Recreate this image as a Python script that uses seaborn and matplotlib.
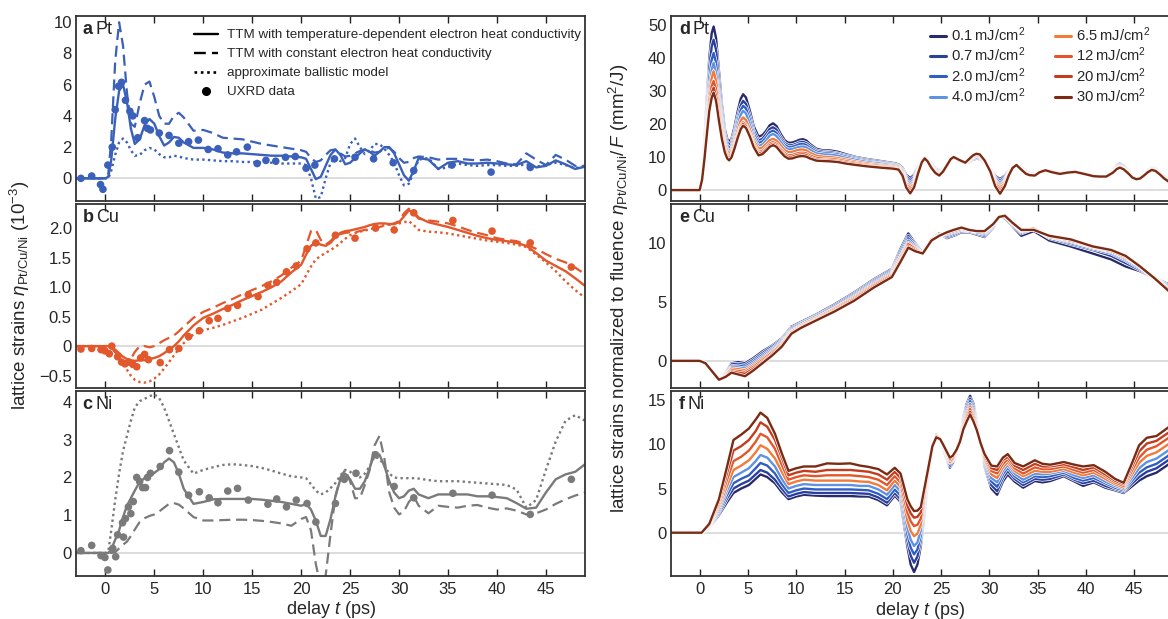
import matplotlib
matplotlib.use("Agg")
import matplotlib.pyplot as plt
import matplotlib.patheffects as pe
from matplotlib.lines import Line2D
from matplotlib.ticker import FuncFormatter
import pandas as pd
import seaborn as sns

# ---------------- left column: lattice strain (10^-3) ----------------
t_model = [-3, 0, 0.3, 0.6, 1.0, 1.4, 1.8, 2.2, 2.6, 3.0, 3.5, 4.0, 4.5, 5.0, 5.5, 6.0, 6.5, 7.0, 7.5, 8.0,
           9, 10, 11, 12, 13, 14, 15, 16, 17, 18, 19, 20,
           20.5, 21, 21.5, 22, 22.5, 23, 23.5, 24, 24.5, 25, 25.5, 26, 26.5, 27, 27.5, 28, 28.5, 29, 29.5, 30, 30.5, 31, 31.5, 32,
           33, 34, 35, 36, 37, 38, 39, 40, 41, 42, 43, 44, 45, 46, 47, 48, 49]

pt_tdep = [0, 0, 0.1, 1.2, 3.8, 5.6, 6.0, 4.9, 3.2, 2.2, 2.5, 3.4, 3.8, 3.5, 2.7, 2.1, 2.3, 2.65, 2.6, 2.3,
           1.95, 1.95, 1.85, 1.65, 1.6, 1.6, 1.55, 1.5, 1.45, 1.45, 1.4, 1.35,
           1.25, 0.6, -0.05, 0.1, 0.8, 1.5, 1.85, 1.5, 0.9, 1.0, 1.3, 1.6, 1.85, 1.7, 1.45, 1.7, 2.0, 2.0, 1.6, 0.9, 0.2, -0.15, 0.5, 1.3,
           1.2, 0.6, 1.0, 1.1, 0.95, 0.95, 1.0, 0.95, 0.9, 0.85, 1.1, 0.7, 0.8, 1.15, 0.9, 0.6, 0.75]
pt_const = [0, 0, 0.3, 2.5, 7.5, 10.0, 8.5, 5.5, 3.5, 3.3, 4.8, 6.0, 6.2, 5.2, 4.0, 3.5, 3.5, 4.0, 4.2, 3.9,
            3.05, 3.1, 2.9, 2.6, 2.55, 2.5, 2.35, 2.2, 2.1, 2.0, 1.9, 1.8,
            1.7, 1.3, 1.05, 1.15, 1.5, 1.8, 1.85, 1.6, 1.4, 1.45, 1.6, 1.75, 1.85, 1.8, 1.65, 1.7, 1.9, 1.95, 1.7, 1.3, 1.0, 1.05, 1.3, 1.4,
            1.35, 1.2, 1.25, 1.25, 1.2, 1.15, 1.2, 1.1, 0.95, 0.9, 1.6, 1.2, 0.85, 1.5, 1.2, 0.8, 0.8]
pt_ballistic = [0, 0, 0.0, 0.5, 1.5, 2.3, 2.55, 2.3, 1.8, 1.45, 1.5, 1.8, 1.95, 1.85, 1.55, 1.35, 1.35, 1.45, 1.4, 1.3,
                1.2, 1.2, 1.15, 1.1, 1.1, 1.05, 1.05, 1.0, 1.0, 0.95, 0.95, 0.95,
                0.85, 0.0, -1.3, -1.2, 0.0, 1.0, 1.35, 1.1, 1.3, 2.2, 2.55, 2.0, 1.55, 1.8, 2.2, 2.2, 1.9, 1.5, 1.0, 0.2, -0.45, -0.35, 0.4, 1.2,
                1.3, 0.6, 0.7, 0.95, 0.85, 0.8, 0.85, 0.85, 0.8, 0.8, 0.9, 0.75, 0.85, 1.0, 0.85, 0.65, 0.8]

cu_tdep = [0, 0, 0, -0.02, -0.06, -0.12, -0.18, -0.22, -0.24, -0.25, -0.24, -0.24, -0.22, -0.2, -0.17, -0.12, -0.06, 0.0, 0.08, 0.18,
           0.35, 0.48, 0.55, 0.63, 0.7, 0.78, 0.85, 0.92, 1.0, 1.1, 1.25, 1.38,
           1.55, 1.7, 1.76, 1.72, 1.7, 1.75, 1.85, 1.92, 1.95, 1.96, 1.98, 2.0, 2.02, 2.05, 2.07, 2.08, 2.08, 2.07, 2.07, 2.1, 2.2, 2.3, 2.27, 2.18,
           2.1, 2.06, 2.02, 1.97, 1.92, 1.87, 1.83, 1.8, 1.78, 1.75, 1.7, 1.58, 1.45, 1.36, 1.27, 1.15, 1.02]
cu_const = [0, 0, 0, -0.03, -0.1, -0.2, -0.27, -0.3, -0.22, -0.1, 0.0, 0.0, -0.02, 0.0, 0.05, 0.1, 0.14, 0.18, 0.25, 0.33,
            0.48, 0.58, 0.65, 0.73, 0.8, 0.88, 0.95, 1.02, 1.1, 1.2, 1.33, 1.45,
            1.7, 1.95, 1.97, 1.8, 1.72, 1.78, 1.87, 1.9, 1.92, 1.93, 1.93, 1.95, 1.97, 1.99, 2.0, 2.02, 2.04, 2.06, 2.08, 2.12, 2.25, 2.33, 2.25, 2.16,
            2.13, 2.11, 2.08, 2.03, 1.97, 1.92, 1.88, 1.83, 1.8, 1.78, 1.72, 1.65, 1.56, 1.48, 1.42, 1.33, 1.22]
cu_ballistic = [0, 0, 0, -0.03, -0.1, -0.2, -0.3, -0.4, -0.5, -0.57, -0.61, -0.62, -0.6, -0.55, -0.48, -0.38, -0.27, -0.16, -0.05, 0.05,
                0.2, 0.27, 0.31, 0.36, 0.42, 0.48, 0.55, 0.62, 0.72, 0.82, 0.93, 1.05,
                1.2, 1.35, 1.47, 1.53, 1.58, 1.63, 1.68, 1.75, 1.82, 1.88, 1.92, 1.94, 1.96, 1.98, 2.0, 2.03, 2.05, 2.06, 2.07, 2.08, 2.1, 2.12, 2.05, 1.97,
                1.94, 1.93, 1.91, 1.88, 1.85, 1.82, 1.79, 1.77, 1.75, 1.72, 1.68, 1.55, 1.42, 1.27, 1.1, 0.95, 0.82]

ni_tdep = [0, 0, 0, 0.1, 0.35, 0.6, 0.95, 1.25, 1.45, 1.65, 1.88, 1.98, 2.05, 2.12, 2.22, 2.4, 2.5, 2.4, 2.1, 1.7,
           1.3, 1.35, 1.42, 1.43, 1.43, 1.43, 1.43, 1.41, 1.38, 1.35, 1.3, 1.25,
           1.3, 1.15, 0.85, 0.45, 0.45, 0.9, 1.5, 1.95, 2.1, 1.95, 1.7, 1.7, 1.9, 2.25, 2.65, 2.6, 2.3, 1.9, 1.6, 1.45, 1.5, 1.65, 1.7, 1.55,
           1.45, 1.55, 1.55, 1.55, 1.55, 1.5, 1.5, 1.48, 1.45, 1.32, 1.17, 1.2, 1.6, 1.95, 2.08, 2.15, 2.35]
ni_const = [0, 0, 0, 0, 0.02, 0.12, 0.22, 0.3, 0.45, 0.62, 0.82, 0.92, 0.98, 1.02, 1.1, 1.2, 1.3, 1.32, 1.28, 1.18,
            0.95, 0.86, 0.86, 0.87, 0.88, 0.88, 0.87, 0.85, 0.82, 0.78, 0.72, 0.9,
            0.95, 0.6, -0.3, -0.9, -0.6, 0.5, 1.5, 2.0, 2.2, 1.9, 1.45, 1.45, 1.8, 2.2, 2.85, 3.1, 2.5, 1.6, 1.2, 1.02, 1.1, 1.35, 1.5, 1.25,
            1.05, 1.25, 1.22, 1.2, 1.25, 1.27, 1.2, 1.15, 1.18, 1.12, 1.02, 1.05, 1.15, 1.3, 1.42, 1.52, 1.6]
ni_ballistic = [0, 0, 0.05, 0.6, 1.4, 2.1, 2.7, 3.1, 3.5, 3.85, 4.02, 4.08, 4.15, 4.2, 4.1, 3.85, 3.5, 3.15, 2.8, 2.45,
                2.1, 2.2, 2.27, 2.33, 2.35, 2.33, 2.3, 2.25, 2.18, 2.1, 2.03, 2.0,
                1.98, 1.82, 1.65, 1.55, 1.6, 1.72, 1.85, 2.05, 2.2, 2.15, 2.05, 2.0, 2.1, 2.3, 2.55, 2.5, 2.3, 2.1, 2.0, 1.98, 1.98, 1.98, 1.98, 1.97,
                1.93, 1.9, 1.9, 1.9, 1.88, 1.86, 1.84, 1.82, 1.8, 1.68, 1.2, 1.4, 2.2, 2.95, 3.5, 3.65, 3.5]

# UXRD data points
pt_data_t = [-2.5, -1.4, -0.5, -0.25, 0.25, 0.7, 1.0, 1.35, 1.65, 2.05, 2.5, 2.8, 3.3, 4.0, 4.3, 4.6, 5.5, 6.5, 7.5, 8.5,
             9.5, 10.5, 11.5, 12.5, 13.4, 14.5, 15.5, 16.4, 17.4, 18.4, 19.4, 20.5, 21.4, 23.4, 25.5, 27.4, 29.4, 31.5, 35.4, 39.4, 43.4]
pt_data = [0.0, 0.15, -0.4, -0.7, 0.85, 2.0, 4.4, 5.9, 6.15, 5.0, 4.3, 4.0, 2.6, 3.7, 3.2, 3.1, 2.9, 2.75, 2.25, 2.35,
           2.45, 1.85, 1.9, 1.5, 1.7, 2.0, 0.95, 1.15, 1.1, 1.35, 1.4, 0.65, 0.85, 1.25, 1.35, 1.25, 1.0, 0.5, 0.85, 0.4, 0.7]
cu_data_t = [-2.5, -1.4, -0.45, -0.05, 0.4, 0.65, 1.25, 1.65, 2.0, 2.4, 2.8, 3.2, 3.6, 4.0, 4.4, 5.6, 6.55, 7.5, 8.5, 9.6,
             10.6, 11.5, 12.5, 13.5, 14.6, 15.6, 16.6, 17.5, 18.5, 19.5, 20.6, 21.5, 23.5, 25.5, 27.6, 29.5, 31.5, 35.5, 39.5, 43.4, 47.6]
cu_data = [-0.05, -0.04, -0.06, -0.08, -0.13, 0.0, -0.18, -0.27, -0.3, -0.27, -0.31, -0.35, -0.2, -0.14, -0.23, -0.28, -0.06, -0.04, 0.16, 0.26,
           0.43, 0.47, 0.64, 0.69, 0.87, 0.84, 1.03, 1.08, 1.26, 1.36, 1.65, 1.75, 1.88, 1.83, 2.0, 1.97, 2.26, 2.13, 1.95, 1.75, 1.34]
ni_data_t = [-2.5, -1.4, -0.45, -0.05, 0.25, 0.75, 1.05, 1.25, 1.75, 1.85, 2.05, 2.35, 2.6, 2.85, 3.2, 3.5, 3.8, 4.1, 4.3, 4.6,
             5.6, 6.55, 7.5, 8.5, 9.6, 10.6, 11.5, 12.5, 13.5, 14.6, 16.6, 17.5, 18.5, 19.5, 20.6, 21.5, 23.5, 24.4, 25.6, 27.6,
             29.5, 31.5, 35.5, 39.5, 43.4, 47.6]
ni_data = [0.06, 0.2, -0.07, -0.12, -0.45, 0.12, -0.1, 0.48, 0.8, 0.42, 0.91, 1.22, 1.04, 1.36, 2.0, 1.89, 1.73, 1.73, 2.0, 2.11,
           2.29, 2.71, 2.14, 1.53, 1.62, 1.46, 1.33, 1.64, 1.71, 1.4, 1.29, 1.43, 1.22, 1.4, 1.31, 0.82, 1.31, 1.95, 2.11, 2.6,
           1.76, 1.46, 1.58, 1.53, 1.02, 1.95]

# ---------------- right column: strain / fluence (mm^2/J) ----------------
fluences = ["0.1", "0.7", "2.0", "4.0", "6.5", "12", "20", "30"]
fluence_colors = ["#272b6e", "#2b3f9e", "#2f5dc6", "#5f92e2", "#f27a3a", "#e4562a", "#c43c1e", "#7b2a13"]

# each row: one delay, values for the 8 fluences (low -> high)
t_pt = [-3, 0.0, 0.25, 0.5, 0.75, 1.0, 1.25, 1.45, 1.7, 2.0, 2.3, 2.6, 2.85, 3.05, 3.3, 3.6, 3.95, 4.25, 4.5, 4.8,
        5.2, 5.6, 6.1, 6.5, 6.9, 7.25, 7.6, 7.95, 8.4, 8.8, 9.2, 9.6, 10.0, 10.35, 10.7, 11.05, 11.4, 12.1, 12.8, 13.5,
        14.3, 15.2, 16.2, 17.3, 18.7, 20.0, 20.6, 21.0, 21.4, 21.8, 22.2, 22.6, 23.0, 23.3, 23.6, 24.0, 24.4, 24.8, 25.2, 25.6,
        26.0, 26.3, 26.9, 27.5, 27.9, 28.3, 28.65, 29.0, 29.5, 30.1, 30.6, 31.1, 31.6, 32.0, 32.4, 32.8, 33.3, 33.8, 34.2, 34.7,
        35.2, 35.8, 36.5, 37.3, 38.1, 38.9, 39.8, 40.8, 41.4, 42.1, 42.8, 43.2, 43.5, 43.9, 44.4, 44.8, 45.2, 45.6, 46.0, 46.4,
        46.8, 47.2, 47.7, 48.1, 48.6, 49.5]
pt_norm = [
    [0, 0, 0, 0, 0, 0, 0, 0],
    [0, 0, 0, 0, 0, 0, 0, 0],
    [5, 4.6, 4.3, 4, 3.8, 3.5, 3.3, 3.1],
    [15, 14, 13, 12, 11.5, 10.5, 10, 9.5],
    [28, 26, 24, 22, 21, 19, 18, 17],
    [40, 37, 34, 31, 29, 27, 25, 24],
    [47.5, 43.5, 39.5, 36.5, 34, 31.5, 29.5, 28],
    [49.5, 45.5, 41.5, 38.5, 36, 33, 31, 29.5],
    [46, 42.5, 38.5, 35.5, 33, 30.5, 28.5, 27],
    [36, 33, 30, 28, 26, 24, 22.5, 21],
    [26, 24, 22, 20.5, 19, 17.5, 16.5, 15.5],
    [18.5, 17, 16, 15, 14, 12.8, 12.2, 11.5],
    [15.5, 14.5, 13.5, 12.5, 11.8, 10.8, 10.2, 9.6],
    [14.6, 13.6, 12.6, 11.7, 11.0, 10.1, 9.5, 9.0],
    [15.5, 14.5, 13.5, 12.6, 11.9, 11.0, 10.4, 9.9],
    [19, 17.5, 16.5, 15.5, 14.5, 13.5, 13, 12.5],
    [24, 22.2, 21, 19.7, 18.3, 17, 16.4, 15.9],
    [27.6, 25.6, 24.2, 22.8, 21, 19.5, 18.9, 18.4],
    [29, 27, 25.5, 24, 22, 20.5, 20, 19.5],
    [28, 26.1, 24.7, 23.2, 21.2, 19.8, 19.3, 18.8],
    [24, 22.4, 21.2, 19.9, 18.4, 17.2, 16.7, 16.2],
    [19.3, 18, 17, 16, 15, 14, 13.5, 13],
    [16.2, 15, 14.2, 13.3, 12.5, 11.5, 11, 10.5],
    [16.6, 15.5, 14.7, 13.8, 12.9, 11.9, 11.4, 10.9],
    [18, 17, 16, 15, 14, 13, 12.5, 12],
    [19.6, 18.5, 17.5, 16.5, 15.1, 14.1, 13.6, 13.1],
    [20.2, 19, 18, 17, 15.5, 14.5, 14, 13.6],
    [19.4, 18.3, 17.3, 16.4, 15, 14, 13.5, 13.1],
    [17, 16, 15.2, 14.5, 13.5, 12.5, 12, 11.5],
    [15.1, 14.3, 13.7, 13.0, 12.1, 11.2, 10.7, 10.2],
    [14.3, 13.5, 13, 12.3, 11.5, 10.5, 10, 9.5],
    [14.4, 13.6, 13.1, 12.4, 11.6, 10.6, 10.1, 9.6],
    [14.8, 14, 13.5, 12.8, 12, 11, 10.5, 10],
    [15.25, 14.45, 13.9, 13.1, 12.25, 11.25, 10.75, 10.25],
    [15.4, 14.6, 14, 13.2, 12.3, 11.3, 10.8, 10.3],
    [15.0, 14.2, 13.6, 12.9, 12.0, 11.1, 10.6, 10.1],
    [14.0, 13.4, 12.8, 12.2, 11.3, 10.5, 10, 9.6],
    [12.5, 12, 11.6, 11.1, 10.4, 9.7, 9.2, 8.9],
    [12.0, 11.6, 11.2, 10.8, 10.1, 9.5, 9.1, 8.8],
    [12.0, 11.5, 11.1, 10.7, 10.0, 9.4, 9.0, 8.7],
    [11.6, 11.1, 10.8, 10.4, 9.7, 9.2, 8.8, 8.5],
    [10.8, 10.4, 10.1, 9.7, 9.2, 8.7, 8.3, 8.0],
    [10.0, 9.7, 9.4, 9.1, 8.6, 8.2, 7.9, 7.6],
    [9.4, 9.1, 8.8, 8.5, 8.1, 7.7, 7.4, 7.2],
    [8.8, 8.5, 8.2, 8.0, 7.6, 7.3, 7.0, 6.8],
    [8.2, 7.9, 7.7, 7.5, 7.2, 6.9, 6.7, 6.5],
    [7.8, 7.5, 7.3, 7.1, 6.8, 6.5, 6.3, 6.2],
    [6.8, 6.4, 6.1, 5.8, 5.4, 5.0, 4.7, 4.4],
    [4.6, 4.0, 3.4, 2.9, 2.3, 1.8, 1.2, 0.7],
    [3.6, 2.9, 2.2, 1.6, 1.0, 0.4, -0.3, -1.0],
    [4.6, 4.0, 3.4, 2.9, 2.3, 1.8, 1.3, 0.8],
    [7.0, 6.7, 6.4, 6.1, 5.8, 5.5, 5.2, 4.9],
    [9.1, 9.0, 8.9, 8.8, 8.7, 8.6, 8.5, 8.4],
    [9.8, 9.8, 9.8, 9.8, 9.8, 9.8, 9.7, 9.6],
    [9.4, 9.3, 9.2, 9.1, 9.0, 8.9, 8.8, 8.7],
    [8.1, 7.9, 7.7, 7.5, 7.3, 7.1, 6.9, 6.7],
    [6.6, 6.4, 6.2, 6.0, 5.8, 5.6, 5.4, 5.2],
    [5.8, 5.6, 5.4, 5.2, 5.0, 4.8, 4.6, 4.4],
    [6.4, 6.3, 6.2, 6.1, 5.9, 5.8, 5.7, 5.6],
    [7.8, 7.8, 7.7, 7.7, 7.6, 7.6, 7.5, 7.5],
    [9.1, 9.1, 9.2, 9.2, 9.3, 9.3, 9.4, 9.4],
    [9.6, 9.7, 9.7, 9.8, 9.8, 9.9, 9.9, 10.0],
    [8.7, 8.8, 8.8, 8.9, 8.9, 9.0, 9.0, 9.1],
    [7.9, 8.0, 8.0, 8.1, 8.1, 8.2, 8.2, 8.3],
    [8.4, 8.6, 8.7, 8.9, 9.0, 9.2, 9.3, 9.4],
    [9.2, 9.4, 9.6, 9.8, 10.0, 10.2, 10.4, 10.5],
    [9.5, 9.7, 9.9, 10.2, 10.4, 10.6, 10.8, 11.0],
    [9.4, 9.6, 9.8, 10.0, 10.2, 10.4, 10.6, 10.8],
    [8.3, 8.4, 8.5, 8.6, 8.7, 8.8, 8.9, 9.0],
    [6.3, 6.2, 6.1, 6.0, 5.9, 5.8, 5.7, 5.6],
    [4.3, 3.9, 3.5, 3.1, 2.7, 2.2, 1.7, 1.2],
    [3.3, 2.7, 2.1, 1.5, 0.9, 0.3, -0.4, -1.1],
    [4.4, 4.0, 3.5, 3.1, 2.7, 2.2, 1.7, 1.2],
    [5.8, 5.6, 5.4, 5.2, 5.0, 4.8, 4.6, 4.4],
    [7.1, 7.0, 7.0, 6.9, 6.9, 6.8, 6.8, 6.7],
    [7.6, 7.6, 7.6, 7.6, 7.6, 7.6, 7.6, 7.6],
    [6.9, 6.8, 6.7, 6.6, 6.5, 6.4, 6.3, 6.2],
    [5.8, 5.6, 5.5, 5.4, 5.3, 5.1, 5.0, 4.9],
    [5.0, 4.9, 4.8, 4.7, 4.7, 4.6, 4.5, 4.5],
    [4.9, 4.8, 4.7, 4.6, 4.6, 4.5, 4.4, 4.4],
    [5.6, 5.6, 5.5, 5.5, 5.5, 5.4, 5.4, 5.4],
    [6.1, 6.1, 6.1, 6.1, 6.1, 6.0, 6.0, 6.0],
    [5.8, 5.7, 5.7, 5.6, 5.6, 5.5, 5.5, 5.4],
    [5.4, 5.3, 5.2, 5.2, 5.1, 5.0, 5.0, 4.9],
    [5.6, 5.6, 5.5, 5.5, 5.4, 5.4, 5.3, 5.3],
    [5.8, 5.8, 5.7, 5.7, 5.6, 5.6, 5.5, 5.5],
    [5.2, 5.2, 5.1, 5.1, 5.0, 5.0, 4.9, 4.9],
    [4.5, 4.5, 4.4, 4.4, 4.3, 4.3, 4.2, 4.2],
    [4.3, 4.3, 4.2, 4.2, 4.2, 4.1, 4.1, 4.1],
    [4.3, 4.2, 4.2, 4.2, 4.2, 4.1, 4.1, 4.1],
    [6.0, 5.9, 5.8, 5.7, 5.6, 5.5, 5.4, 5.3],
    [7.5, 7.3, 7.1, 6.9, 6.8, 6.6, 6.5, 6.4],
    [8.0, 7.8, 7.6, 7.4, 7.2, 7.0, 6.9, 6.8],
    [7.4, 7.2, 7.0, 6.9, 6.7, 6.5, 6.4, 6.3],
    [5.8, 5.6, 5.5, 5.4, 5.3, 5.2, 5.1, 5.0],
    [4.2, 4.1, 4.1, 4.0, 4.0, 3.9, 3.9, 3.8],
    [3.3, 3.3, 3.3, 3.3, 3.3, 3.3, 3.3, 3.3],
    [3.7, 3.7, 3.6, 3.6, 3.6, 3.6, 3.5, 3.5],
    [4.8, 4.7, 4.6, 4.6, 4.5, 4.5, 4.4, 4.4],
    [6.1, 6.0, 5.9, 5.8, 5.7, 5.6, 5.5, 5.4],
    [6.8, 6.7, 6.6, 6.5, 6.4, 6.3, 6.2, 6.1],
    [6.5, 6.4, 6.3, 6.2, 6.1, 6.0, 5.9, 5.8],
    [5.3, 5.2, 5.1, 5.0, 4.9, 4.8, 4.7, 4.6],
    [4.2, 4.1, 4.0, 3.9, 3.8, 3.7, 3.6, 3.5],
    [3.2, 3.1, 3.0, 2.9, 2.8, 2.7, 2.6, 2.5],
    [2.0, 1.9, 1.8, 1.7, 1.6, 1.5, 1.4, 1.3],
]

t_cu = [-3, 0.0, 0.6, 1.3, 2.0, 2.7, 3.3, 4.0, 4.7, 5.5, 6.5, 7.5, 8.5, 9.5, 10.5, 12.0, 14.0, 16.0, 18.0, 19.9,
        20.8, 21.6, 22.3, 23.1, 24.0, 24.8, 25.6, 26.3, 27.1, 27.9, 28.7, 29.5, 30.4, 31.0, 31.6, 32.4, 33.3, 34.6,
        36.2, 38.4, 40.7, 42.6, 44.1, 45.6, 47.1, 48.6, 49.5]
cu_norm = [
    [0, 0, 0, 0, 0, 0, 0, 0],
    [0, 0, 0, 0, 0, 0, 0, 0],
    [-0.2, -0.2, -0.2, -0.2, -0.2, -0.2, -0.2, -0.2],
    [-0.9, -0.9, -0.9, -0.9, -0.9, -0.9, -0.9, -0.9],
    [-1.6, -1.6, -1.6, -1.6, -1.6, -1.6, -1.6, -1.6],
    [-1.0, -1.05, -1.1, -1.15, -1.2, -1.25, -1.3, -1.35],
    [-0.2, -0.3, -0.45, -0.55, -0.65, -0.8, -0.9, -1.0],
    [-0.1, -0.25, -0.4, -0.55, -0.7, -0.85, -1.0, -1.15],
    [-0.2, -0.35, -0.5, -0.65, -0.8, -0.95, -1.1, -1.3],
    [0.2, 0.05, -0.1, -0.25, -0.4, -0.55, -0.7, -0.85],
    [0.8, 0.65, 0.5, 0.35, 0.2, 0.05, -0.1, -0.2],
    [1.3, 1.2, 1.05, 0.95, 0.8, 0.7, 0.55, 0.45],
    [1.9, 1.8, 1.7, 1.6, 1.5, 1.4, 1.3, 1.2],
    [2.9, 2.8, 2.7, 2.6, 2.5, 2.45, 2.35, 2.3],
    [3.3, 3.2, 3.15, 3.05, 3.0, 2.9, 2.85, 2.8],
    [3.9, 3.8, 3.75, 3.65, 3.6, 3.5, 3.45, 3.4],
    [4.8, 4.7, 4.6, 4.5, 4.45, 4.35, 4.25, 4.2],
    [5.8, 5.7, 5.6, 5.5, 5.4, 5.3, 5.2, 5.1],
    [6.9, 6.8, 6.7, 6.6, 6.5, 6.4, 6.3, 6.2],
    [7.8, 7.7, 7.6, 7.5, 7.4, 7.3, 7.2, 7.1],
    [9.5, 9.3, 9.1, 8.9, 8.8, 8.6, 8.5, 8.4],
    [10.8, 10.6, 10.4, 10.2, 10.0, 9.9, 9.7, 9.6],
    [10.0, 9.9, 9.8, 9.7, 9.6, 9.5, 9.4, 9.3],
    [9.2, 9.2, 9.2, 9.1, 9.1, 9.1, 9.1, 9.1],
    [10.3, 10.3, 10.3, 10.3, 10.3, 10.3, 10.2, 10.2],
    [10.8, 10.8, 10.7, 10.7, 10.7, 10.6, 10.6, 10.6],
    [10.4, 10.5, 10.6, 10.7, 10.8, 10.8, 10.9, 10.9],
    [10.6, 10.7, 10.8, 10.9, 11.0, 11.0, 11.1, 11.1],
    [10.9, 11.0, 11.1, 11.1, 11.2, 11.2, 11.3, 11.3],
    [10.9, 11.0, 11.0, 11.1, 11.1, 11.1, 11.1, 11.1],
    [10.7, 10.8, 10.9, 10.9, 11.0, 11.0, 11.0, 11.0],
    [10.5, 10.6, 10.7, 10.8, 10.9, 11.0, 11.0, 11.0],
    [11.3, 11.4, 11.5, 11.5, 11.6, 11.6, 11.6, 11.6],
    [12.2, 12.2, 12.2, 12.2, 12.2, 12.2, 12.2, 12.2],
    [12.1, 12.2, 12.3, 12.3, 12.3, 12.3, 12.3, 12.3],
    [11.4, 11.5, 11.6, 11.6, 11.7, 11.7, 11.7, 11.7],
    [10.6, 10.8, 10.9, 11.0, 11.0, 11.1, 11.1, 11.1],
    [11.0, 11.2, 11.2, 11.2, 11.2, 11.2, 11.1, 11.1],
    [10.2, 10.4, 10.5, 10.5, 10.5, 10.6, 10.6, 10.6],
    [9.7, 9.9, 10.0, 10.1, 10.2, 10.2, 10.3, 10.3],
    [9.1, 9.4, 9.5, 9.6, 9.6, 9.7, 9.7, 9.7],
    [8.6, 8.9, 9.1, 9.2, 9.3, 9.3, 9.4, 9.4],
    [8.0, 8.3, 8.5, 8.6, 8.7, 8.8, 8.9, 8.9],
    [7.6, 7.7, 7.8, 7.9, 8.0, 8.0, 8.0, 8.0],
    [7.0, 7.0, 7.0, 7.0, 7.0, 7.0, 7.0, 7.0],
    [6.5, 6.4, 6.3, 6.2, 6.1, 6.0, 6.0, 5.9],
    [6.1, 6.0, 5.9, 5.8, 5.7, 5.6, 5.5, 5.4],
]

t_ni = [-3, 0.2, 1.0, 2.0, 2.8, 3.5, 4.3, 5.1, 5.8, 6.3, 7.0, 7.8, 8.5, 9.2, 10.0, 10.8, 12.0, 13.2, 14.4, 15.6,
        16.6, 17.5, 18.5, 19.4, 20.2, 20.8, 21.5, 21.85, 22.2, 22.55, 22.9, 23.25, 23.6, 24.1, 24.5, 24.9, 25.2, 25.9,
        26.2, 26.6, 26.95, 27.3, 27.65, 28.0, 28.35, 28.7, 29.1, 29.5, 30.2, 30.8, 31.4, 31.9, 32.6, 33.5, 34.7, 35.5,
        36.3, 37.7, 38.8, 39.7, 40.8, 42.0, 43.0, 43.9, 44.7, 45.5, 46.3, 47.3, 48.5, 49.5]
ni_norm = [
    [0, 0, 0, 0, 0, 0, 0, 0],
    [0, 0, 0, 0, 0, 0, 0, 0],
    [0.6, 0.65, 0.7, 0.75, 0.8, 0.85, 0.9, 1.0],
    [2.0, 2.2, 2.4, 2.6, 2.9, 3.2, 3.5, 3.8],
    [3.4, 3.8, 4.2, 4.7, 5.2, 5.9, 6.6, 7.3],
    [4.5, 5.0, 5.6, 6.3, 7.1, 8.1, 9.3, 10.5],
    [5.0, 5.5, 6.1, 6.8, 7.6, 8.6, 9.8, 11.1],
    [5.4, 5.9, 6.5, 7.3, 8.2, 9.3, 10.5, 11.8],
    [6.1, 6.6, 7.3, 8.1, 9.1, 10.3, 11.5, 12.8],
    [6.6, 7.1, 7.9, 8.8, 9.9, 11.2, 12.5, 13.6],
    [6.3, 6.8, 7.6, 8.5, 9.5, 10.8, 12.0, 13.0],
    [5.6, 6.0, 6.7, 7.5, 8.4, 9.5, 10.5, 11.2],
    [4.6, 5.0, 5.5, 6.1, 6.9, 7.7, 8.5, 9.0],
    [3.8, 4.1, 4.5, 5.0, 5.5, 6.0, 6.5, 7.0],
    [4.1, 4.4, 4.8, 5.3, 5.8, 6.3, 6.8, 7.3],
    [4.3, 4.6, 5.0, 5.5, 6.0, 6.5, 7.0, 7.5],
    [4.2, 4.5, 4.9, 5.4, 5.9, 6.4, 6.9, 7.5],
    [4.15, 4.5, 4.9, 5.4, 5.9, 6.5, 7.1, 7.85],
    [4.15, 4.5, 4.9, 5.4, 5.9, 6.5, 7.1, 7.8],
    [4.15, 4.5, 4.9, 5.4, 5.9, 6.5, 7.1, 7.85],
    [4.1, 4.45, 4.85, 5.3, 5.8, 6.4, 7.0, 7.6],
    [4.1, 4.4, 4.8, 5.3, 5.75, 6.3, 6.9, 7.45],
    [3.7, 4.0, 4.4, 4.9, 5.4, 6.0, 6.6, 7.2],
    [3.1, 3.4, 3.8, 4.3, 4.8, 5.4, 6.0, 6.6],
    [4.2, 4.5, 4.9, 5.4, 5.9, 6.4, 6.9, 7.35],
    [3.5, 3.8, 4.2, 4.7, 5.2, 5.7, 6.2, 6.7],
    [-1.5, -0.8, -0.1, 0.6, 1.4, 2.3, 3.1, 3.8],
    [-3.6, -2.6, -1.7, -0.8, 0.2, 1.3, 2.2, 3.0],
    [-4.45, -3.4, -2.45, -1.5, -0.4, 0.75, 1.7, 2.45],
    [-3.6, -2.7, -1.9, -1.1, -0.1, 0.9, 1.8, 2.5],
    [-1.5, -0.9, -0.3, 0.3, 0.9, 1.6, 2.3, 2.9],
    [2.0, 2.4, 2.8, 3.2, 3.6, 4.0, 4.5, 4.9],
    [5.5, 5.7, 5.9, 6.1, 6.3, 6.5, 6.7, 6.9],
    [9.3, 9.4, 9.5, 9.6, 9.6, 9.7, 9.8, 9.8],
    [11.1, 11.1, 11.0, 11.0, 11.0, 10.9, 10.9, 10.8],
    [10.6, 10.6, 10.6, 10.6, 10.6, 10.6, 10.6, 10.6],
    [9.5, 9.6, 9.7, 9.8, 9.8, 9.9, 10.0, 10.0],
    [7.35, 7.5, 7.7, 7.9, 8.0, 8.2, 8.35, 8.5],
    [7.8, 7.9, 8.1, 8.2, 8.3, 8.4, 8.6, 8.7],
    [9.0, 9.0, 9.1, 9.2, 9.2, 9.3, 9.3, 9.4],
    [10.8, 10.8, 10.7, 10.6, 10.6, 10.5, 10.4, 10.3],
    [13.0, 12.8, 12.6, 12.4, 12.2, 12.0, 11.8, 11.7],
    [14.6, 14.3, 14.0, 13.7, 13.4, 13.1, 12.8, 12.6],
    [15.5, 15.2, 14.9, 14.6, 14.3, 14.0, 13.7, 13.4],
    [14.6, 14.3, 14.0, 13.7, 13.4, 13.1, 12.8, 12.6],
    [12.5, 12.4, 12.3, 12.2, 12.0, 11.9, 11.7, 11.6],
    [10.1, 10.1, 10.1, 10.1, 10.1, 10.1, 10.1, 10.1],
    [7.5, 7.7, 7.9, 8.1, 8.3, 8.5, 8.7, 8.9],
    [5.0, 5.4, 5.8, 6.2, 6.6, 7.0, 7.3, 7.6],
    [4.3, 4.7, 5.2, 5.7, 6.2, 6.7, 7.1, 7.5],
    [5.8, 6.2, 6.6, 7.0, 7.4, 7.8, 8.2, 8.5],
    [6.6, 7.0, 7.4, 7.7, 8.0, 8.3, 8.6, 8.9],
    [5.8, 6.1, 6.4, 6.7, 7.0, 7.3, 7.6, 7.9],
    [5.1, 5.4, 5.7, 6.0, 6.4, 6.7, 7.1, 7.5],
    [5.85, 6.1, 6.4, 6.7, 7.0, 7.4, 7.8, 8.2],
    [5.7, 6.0, 6.3, 6.6, 6.9, 7.2, 7.5, 7.8],
    [5.85, 6.1, 6.4, 6.7, 6.9, 7.2, 7.5, 7.7],
    [6.4, 6.6, 6.8, 7.0, 7.2, 7.5, 7.75, 8.0],
    [5.8, 6.0, 6.2, 6.5, 6.8, 7.1, 7.4, 7.7],
    [5.3, 5.6, 5.9, 6.2, 6.5, 6.8, 7.1, 7.5],
    [5.7, 5.9, 6.2, 6.5, 6.8, 7.1, 7.4, 7.65],
    [5.1, 5.3, 5.6, 5.8, 6.1, 6.4, 6.6, 6.9],
    [4.8, 4.95, 5.1, 5.3, 5.5, 5.7, 5.9, 6.1],
    [4.5, 4.65, 4.8, 4.95, 5.1, 5.3, 5.5, 5.65],
    [5.2, 5.5, 5.8, 6.1, 6.5, 6.9, 7.3, 7.7],
    [5.9, 6.3, 6.8, 7.3, 7.9, 8.5, 9.2, 9.9],
    [6.4, 6.9, 7.4, 8.0, 8.7, 9.4, 10.1, 10.75],
    [6.8, 7.3, 7.8, 8.4, 9.1, 9.8, 10.4, 10.95],
    [7.7, 8.2, 8.7, 9.3, 10.0, 10.7, 11.3, 11.9],
    [8.5, 9.0, 9.5, 10.1, 10.7, 11.4, 12.0, 12.6],
]

pt_color = "#3b60b9"
cu_color = "#e2572b"
ni_color = "#7a7a7a"

sns.set_theme(style="white")
plt.rcParams["font.family"] = ["Liberation Sans", "DejaVu Sans"]
plt.rcParams["mathtext.fontset"] = "custom"
plt.rcParams["mathtext.rm"] = "Liberation Sans"
plt.rcParams["mathtext.it"] = "Liberation Sans:italic"
plt.rcParams["mathtext.bf"] = "Liberation Sans:bold"

fig = plt.figure(figsize=(11.68, 6.19), dpi=100)

# panel boxes in figure fractions
left_x, left_w = 0.0651, 0.4358
right_x, right_w = 0.5742, 0.4300
rows_y = [(0.6753, 0.2989), (0.3732, 0.2973), (0.0695, 0.2989)]

ax_left = [fig.add_axes([left_x, y, left_w, h]) for y, h in rows_y]
ax_right = [fig.add_axes([right_x, y, right_w, h]) for y, h in rows_y]


def style_axis(ax, ylim, yticks, bottom, fmt=None):
    ax.set_xlim(-3, 49)
    ax.set_ylim(*ylim)
    ax.set_xticks([0, 5, 10, 15, 20, 25, 30, 35, 40, 45])
    ax.set_yticks(yticks)
    if fmt is not None:
        ax.yaxis.set_major_formatter(FuncFormatter(fmt))
    ax.tick_params(axis="x", direction="in", top=True, bottom=True, length=5, width=1,
                   color="#222222", labelbottom=bottom, labelsize=12, pad=4)
    ax.tick_params(axis="y", length=0, labelsize=12, pad=3)
    for s in ax.spines.values():
        s.set_color("#333333")
        s.set_linewidth(1.3)
    ax.axhline(0, color="#d3d3d3", lw=1.1, zorder=0)
    ax.set_xlabel("")
    ax.set_ylabel("")
    if bottom:
        ax.set_xlabel(r"delay $t$ (ps)", fontsize=13, labelpad=2)


def panel_label(ax, letter, name, x0):
    t = ax.text(x0, 0.925, letter, transform=ax.transAxes, fontsize=13, fontweight="bold",
                va="center", ha="left")
    ax.annotate(name, xy=(1, 0.5), xycoords=t, xytext=(2, 0), textcoords="offset points",
                fontsize=13, va="center", ha="left")


def minus_fmt(v, pos):
    if abs(v) < 1e-9:
        return "0"
    return f"{v:.1f}".replace("-", "\u2212")


dash = (0, (5, 2.6))
dot = (0, (1, 1.4))

left_sets = [
    (pt_tdep, pt_const, pt_ballistic, pt_data_t, pt_data, pt_color),
    (cu_tdep, cu_const, cu_ballistic, cu_data_t, cu_data, cu_color),
    (ni_tdep, ni_const, ni_ballistic, ni_data_t, ni_data, ni_color),
]
for ax, (tdep, const, ball, dt, dv, col) in zip(ax_left, left_sets):
    sns.lineplot(x=t_model, y=ball, ax=ax, color=col, lw=1.7, linestyle=dot)
    sns.lineplot(x=t_model, y=const, ax=ax, color=col, lw=1.6, linestyle=dash)
    sns.lineplot(x=t_model, y=tdep, ax=ax, color=col, lw=1.7)
    sns.scatterplot(x=dt, y=dv, ax=ax, color=col, s=30, edgecolor="none", zorder=5)

style_axis(ax_left[0], (-1.45, 10.4), [0, 2, 4, 6, 8, 10], False)
style_axis(ax_left[1], (-0.71, 2.41), [-0.5, 0, 0.5, 1.0, 1.5, 2.0], False, minus_fmt)
style_axis(ax_left[2], (-0.61, 4.29), [0, 1, 2, 3, 4], True)
panel_label(ax_left[0], "a", "Pt", 0.013)
panel_label(ax_left[1], "b", "Cu", 0.013)
panel_label(ax_left[2], "c", "Ni", 0.013)

legend_handles = [
    Line2D([], [], color="black", lw=1.7),
    Line2D([], [], color="black", lw=1.7, linestyle=dash),
    Line2D([], [], color="black", lw=1.9, linestyle=dot),
    Line2D([], [], color="black", marker="o", linestyle="none", markersize=5.5),
]
legend_labels = ["TTM with temperature-dependent electron heat conductivity",
                 "TTM with constant electron heat conductivity",
                 "approximate ballistic model",
                 "UXRD data"]
ax_left[0].legend(legend_handles, legend_labels, loc="upper left", bbox_to_anchor=(0.232, 0.93),
                  frameon=False, fontsize=9.6, handlelength=1.8, handletextpad=0.7,
                  labelspacing=0.5, borderpad=0, borderaxespad=0)

outline = [pe.Stroke(linewidth=2.7, foreground="white"), pe.Normal()]
right_sets = [(t_pt, pt_norm), (t_cu, cu_norm), (t_ni, ni_norm)]
for ax, (tt, table) in zip(ax_right, right_sets):
    df = pd.DataFrame(table, columns=fluences)
    df["t"] = tt
    for k, f in enumerate(fluences):
        sns.lineplot(data=df, x="t", y=f, ax=ax, color=fluence_colors[k], lw=1.7,
                     path_effects=outline, legend=False)

style_axis(ax_right[0], (-3.3, 52.7), [0, 10, 20, 30, 40, 50], False)
style_axis(ax_right[1], (-2.3, 13.3), [0, 5, 10], False)
style_axis(ax_right[2], (-4.9, 16.05), [0, 5, 10, 15], True)
panel_label(ax_right[0], "d", "Pt", 0.017)
panel_label(ax_right[1], "e", "Cu", 0.017)
panel_label(ax_right[2], "f", "Ni", 0.017)
ax_right[2].xaxis.set_label_coords((920 - 670.7) / 503.0, -0.13)

h = [Line2D([], [], color=c, lw=2.2) for c in fluence_colors]
ax_right[0].legend(h, [f"{f}\u2009mJ/cm$^2$" for f in fluences], ncol=2, loc="upper left",
                   bbox_to_anchor=(0.5155, 0.95), frameon=False, fontsize=10.6, handlelength=1.1,
                   handletextpad=0.35, labelspacing=0.12, columnspacing=2.0, borderpad=0,
                   borderaxespad=0)

fig.text(0.017, 0.523, r"lattice strains $\eta_{\mathrm{Pt/Cu/Ni}}$ $(10^{-3})$", rotation=90,
         ha="center", va="center", fontsize=13.5)
fig.text(0.530, 0.535, r"lattice strains normalized to fluence $\eta_{\mathrm{Pt/Cu/Ni}}/\,F$ (mm$^2$/J)",
         rotation=90, ha="center", va="center", fontsize=13.5)

fig.savefig("out.png", dpi=100)
